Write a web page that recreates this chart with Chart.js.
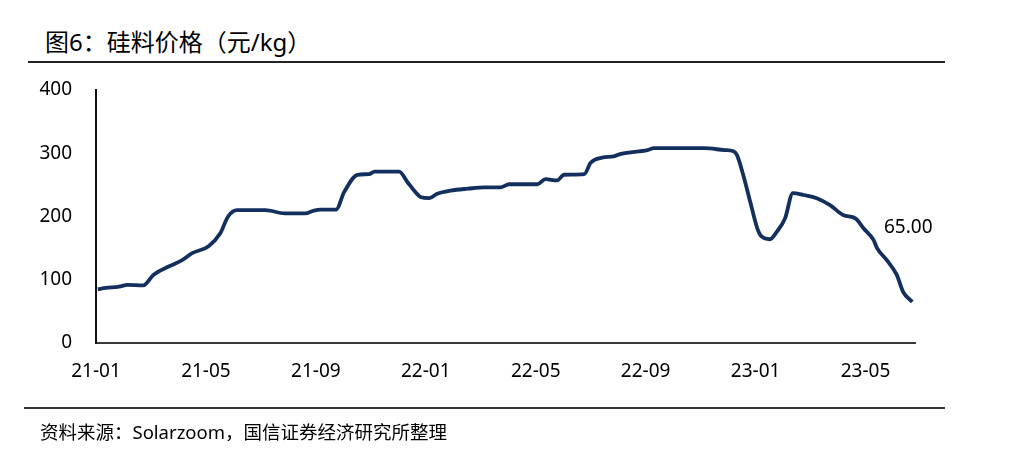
<!DOCTYPE html>
<html>
<head>
<meta charset="utf-8">
<script src="https://cdn.jsdelivr.net/npm/chart.js@4/dist/chart.umd.min.js"></script>
<style>
  html,body{margin:0;padding:0;background:#fff;}
  body{width:1024px;height:470px;position:relative;overflow:hidden;font-family:"Noto Sans","Noto Sans CJK SC",sans-serif;}
  #title{position:absolute;left:45px;top:26px;font-size:24px;line-height:32px;color:#000;white-space:nowrap;}
  #tline{position:absolute;left:28px;top:61px;width:917px;height:2px;background:#222;}
  #sline{position:absolute;left:24px;top:407px;width:921px;height:1.5px;background:#333;}
  #source{position:absolute;left:40px;top:418px;font-size:18.5px;line-height:27px;color:#000;white-space:nowrap;}
  #wrap{position:absolute;left:0;top:0;width:1024px;height:470px;}
</style>
</head>
<body>
<div id="title">图6：硅料价格（元/kg）</div>
<div id="tline"></div>
<div id="wrap"><canvas id="c" width="1024" height="470"></canvas></div>
<div id="sline"></div>
<div id="source">资料来源：Solarzoom，国信证券经济研究所整理</div>
<script>
const dates = ['2021-01-03','2021-01-12','2021-01-27','2021-02-05','2021-02-21','2021-03-04','2021-03-21','2021-04-05','2021-04-16','2021-05-04','2021-05-17','2021-05-26','2021-06-05','2021-07-06','2021-07-28','2021-08-20','2021-08-29','2021-09-06','2021-09-23','2021-10-02','2021-10-17','2021-10-30','2021-11-05','2021-12-02','2021-12-11','2021-12-20','2021-12-26','2022-01-05','2022-01-14','2022-01-29','2022-02-16','2022-03-05','2022-03-23','2022-04-02','2022-05-03','2022-05-12','2022-05-25','2022-06-02','2022-06-24','2022-07-01','2022-07-14','2022-07-27','2022-08-04','2022-09-03','2022-09-10','2022-11-05','2022-11-27','2022-12-07','2022-12-11','2022-12-18','2022-12-26','2023-01-03','2023-01-08','2023-01-17','2023-01-25','2023-02-03','2023-02-11','2023-02-22','2023-03-08','2023-03-23','2023-04-07','2023-04-20','2023-04-29','2023-05-10','2023-05-14','2023-05-25','2023-06-05','2023-06-12','2023-06-22'];
const prices = [85,87,89,92,91,108,121,131,142,153,173,200,210,210,205,205,209,211,211,239,266,267,271,271,255,239,231,229,236,241,244,246,246,251,251,259,257,266,267,285,293,295,299,305,308,308,305,303,297,266,223,181,168,164,176,197,237,234,229,218,202,197,181,163,150,131,108,81,65];
const xTickLabels = ['21-01','21-05','21-09','22-01','22-05','22-09','23-01','23-05'];
const yTickValues = [0,100,200,300,400];

function monthOffset(s){
  const p = s.split('-').map(Number);
  const dim = new Date(p[0], p[1], 0).getDate();
  return (p[0]-2021)*12 + (p[1]-1) + (p[2]-1)/dim;
}
function labelOffset(l){
  const p = l.split('-').map(Number);
  return (p[0]-21)*12 + (p[1]-1);
}
const points = dates.map((d,i)=>({x: monthOffset(d), y: prices[i]}));
const FONT = {family:'"Noto Sans","Noto Sans CJK SC",sans-serif', size:19};

const endLabel = {
  id:'endLabel',
  afterDatasetsDraw(chart){
    const meta = chart.getDatasetMeta(0);
    const last = meta.data[meta.data.length-1];
    const ctx = chart.ctx;
    ctx.save();
    ctx.font = '19px "Noto Sans","Noto Sans CJK SC",sans-serif';
    ctx.fillStyle = '#000';
    ctx.textAlign = 'center';
    ctx.textBaseline = 'middle';
    ctx.fillText(prices[prices.length-1].toFixed(2), last.x - 4, last.y - 74);
    ctx.restore();
  }
};

new Chart(document.getElementById('c'), {
  type:'line',
  data:{datasets:[{
    data: points,
    borderColor:'#132f5e',
    borderWidth:3.8,
    pointRadius:0,
    cubicInterpolationMode:'monotone',
    fill:false
  }]},
  options:{
    responsive:false,
    animation:false,
    events:[],
    layout:{padding:{top:90,right:109,left:0,bottom:0}},
    plugins:{legend:{display:false},tooltip:{enabled:false}},
    scales:{
      x:{
        type:'linear',
        min:0, max:29.8,
        grid:{display:false, drawTicks:false},
        border:{display:true,color:'#3a3a3a',width:2},
        afterBuildTicks(scale){ scale.ticks = xTickLabels.map(l=>({value:labelOffset(l)})); },
        afterFit(scale){ scale.height = 127; },
        ticks:{padding:17, color:'#000', font:FONT, maxRotation:0, autoSkip:false,
          callback:(v,i)=>xTickLabels[i]}
      },
      y:{
        min:0, max:400,
        grid:{display:false, drawTicks:false},
        border:{display:true,color:'#111',width:2},
        afterBuildTicks(scale){ scale.ticks = yTickValues.map(v=>({value:v})); },
        afterFit(scale){ scale.width = 96; },
        ticks:{padding:24, color:'#000', font:FONT, callback:(v)=>String(v)}
      }
    }
  },
  plugins:[endLabel]
});
</script>
</body>
</html>
